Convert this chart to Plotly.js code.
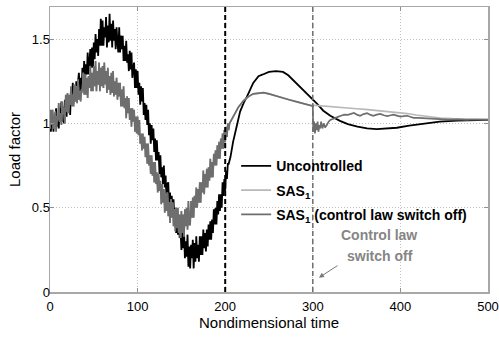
<!DOCTYPE html>
<html>
<head>
<meta charset="utf-8">
<script src="https://cdn.plot.ly/plotly-3.0.1.min.js"></script>
<style>html,body{margin:0;padding:0;background:#fff;}#chart{width:499px;height:337px;}</style>
</head>
<body>
<div id="chart"></div>
<script>
// ---- Data ----
const tUnc = [0,1,2,3,4,5,6,7,8,9,10,11,12,13,14,15,16,17,18,19,20,21,22,23,24,25,26,27,28,29,30,31,32,33,34,35,36,37,38,39,40,41,42,43,44,45,46,47,48,49,
  50,51,52,53,54,55,56,57,58,59,60,61,62,63,64,65,66,67,68,69,70,71,72,73,74,75,76,77,78,79,80,81,82,83,84,85,86,87,88,89,90,91,92,93,94,95,96,97,98,99,
  100,101,102,103,104,105,106,107,108,109,110,111,112,113,114,115,116,117,118,119,120,121,122,123,124,125,126,127,128,129,130,131,132,133,134,135,136,137,138,139,140,141,142,143,144,145,146,147,148,149,
  150,151,152,153,154,155,156,157,158,159,160,161,162,163,164,165,166,167,168,169,170,171,172,173,174,175,176,177,178,179,180,181,182,183,184,185,186,187,188,189,190,191,192,193,194,195,196,197,198,199,
  200,201,202,203,204,
  206,209,213,217,221,225,232,238,243,250,258,266,272,277,282,290,299,305,312,320,331,340,351,362,373,385,396,410,427,445,465,480,500];
const loadUnc = [1.03,0.95,1.07,1.02,0.95,1.06,1.00,1.09,0.98,1.04,
  0.97,1.09,1.02,1.13,1.01,1.10,1.00,1.14,1.10,1.04,
  1.17,1.07,1.14,1.05,1.19,1.12,1.24,1.12,1.22,1.13,
  1.25,1.14,1.25,1.30,1.19,1.27,1.18,1.33,1.25,1.37,
  1.23,1.35,1.29,1.42,1.29,1.38,1.44,1.33,1.45,1.33,
  1.48,1.38,1.53,1.42,1.50,1.40,1.56,1.46,1.62,1.46,
  1.61,1.46,1.57,1.51,1.63,1.45,1.58,1.48,1.65,1.49,
  1.59,1.45,1.61,1.49,1.56,1.44,1.57,1.48,1.42,1.57,
  1.42,1.52,1.44,1.52,1.37,1.46,1.37,1.49,1.36,1.41,
  1.31,1.43,1.32,1.42,1.27,1.33,1.36,1.21,1.32,1.21,
  1.31,1.17,1.24,1.11,1.22,1.13,1.21,1.05,1.12,1.02,
  1.11,0.99,1.08,0.93,1.00,0.88,0.99,0.90,0.97,0.83,
  0.91,0.78,0.90,0.78,0.83,0.70,0.81,0.68,0.74,0.64,
  0.75,0.62,0.69,0.55,0.64,0.65,0.51,0.59,0.47,0.57,
  0.44,0.55,0.43,0.50,0.35,0.45,0.34,0.45,0.32,0.37,
  0.25,0.37,0.26,0.36,0.20,0.30,0.21,0.34,0.15,0.27,
  0.14,0.28,0.20,0.31,0.14,0.29,0.18,0.33,0.20,0.28,
  0.18,0.33,0.22,0.33,0.22,0.37,0.26,0.35,0.24,0.37,
  0.27,0.40,0.31,0.42,0.31,0.43,0.35,0.49,0.40,0.50,
  0.40,0.54,0.46,0.58,0.48,0.58,0.50,0.65,0.57,0.67,
  0.60,0.72,0.67,0.76,0.76,
  0.80,0.89,0.98,1.07,1.12,1.16,1.24,1.28,1.29,1.305,1.31,1.305,1.285,1.26,1.235,1.19,1.15,1.115,1.075,1.045,1.015,0.995,0.98,0.97,0.966,0.968,0.974,0.987,1.0,1.01,1.016,1.019,1.021];

const tSas = [0,1,2,3,4,5,6,7,8,9,10,11,12,13,14,15,16,17,18,19,20,21,22,23,24,25,26,27,28,29,30,31,32,33,34,35,36,37,38,39,40,41,42,43,44,45,46,47,48,49,
  50,51,52,53,54,55,56,57,58,59,60,61,62,63,64,65,66,67,68,69,70,71,72,73,74,75,76,77,78,79,80,81,82,83,84,85,86,87,88,89,90,91,92,93,94,95,96,97,98,99,
  100,101,102,103,104,105,106,107,108,109,110,111,112,113,114,115,116,117,118,119,120,121,122,123,124,125,126,127,128,129,130,131,132,133,134,135,136,137,138,139,140,141,142,143,144,145,146,147,148,149,
  150,151,152,153,154,155,156,157,158,159,160,161,162,163,164,165,166,167,168,169,170,171,172,173,174,175,176,177,178,179,180,181,182,183,184,185,186,187,188,189,190,191,192,193,194,195,196,197,198,199,
  200,201,202,203,204,205,206,
  210,215,221,227,232,238,244,250,256,262,267,273,280,286,292,299,300,
  306,312,320,331,340,350,360,369,380,390,400,408,418,427,437,446,460,475,490,500];
const loadSas = [0.97,1.08,0.99,1.08,0.97,1.04,1.07,0.95,1.04,1.02,
  1.12,1.01,1.06,0.99,1.13,1.06,1.09,1.00,1.17,1.07,
  1.18,1.06,1.17,1.11,1.22,1.10,1.17,1.10,1.23,1.13,
  1.22,1.12,1.26,1.14,1.19,1.13,1.20,1.19,1.30,1.17,
  1.29,1.17,1.27,1.15,1.28,1.21,1.34,1.19,1.30,1.19,
  1.34,1.22,1.37,1.19,1.31,1.23,1.36,1.19,1.33,1.22,
  1.34,1.21,1.36,1.23,1.31,1.18,1.33,1.20,1.28,1.17,
  1.30,1.18,1.31,1.16,1.25,1.17,1.27,1.14,1.24,1.16,
  1.24,1.10,1.20,1.10,1.22,1.09,1.15,1.03,1.16,1.06,
  1.15,1.02,1.09,0.98,1.09,1.01,1.08,0.95,1.04,0.94,
  1.04,0.93,1.02,0.88,0.94,0.84,0.94,0.85,0.92,0.80,
  0.88,0.76,0.88,0.75,0.81,0.70,0.81,0.69,0.77,0.65,
  0.77,0.64,0.71,0.59,0.70,0.60,0.66,0.52,0.64,0.53,
  0.61,0.47,0.58,0.48,0.59,0.45,0.53,0.41,0.55,0.44,
  0.53,0.39,0.49,0.36,0.50,0.38,0.50,0.35,0.46,0.32,
  0.48,0.35,0.46,0.33,0.49,0.39,0.50,0.37,0.54,0.40,
  0.40,0.54,0.44,0.56,0.44,0.57,0.50,0.62,0.50,0.61,
  0.53,0.65,0.53,0.65,0.59,0.72,0.58,0.70,0.62,0.73,
  0.62,0.74,0.66,0.79,0.68,0.77,0.68,0.82,0.75,0.84,
  0.75,0.87,0.79,0.89,0.79,0.91,0.85,0.94,0.85,0.96,
  0.89,0.98,0.92,1.00,0.96,1.00,1.01,
  1.05,1.095,1.135,1.16,1.175,1.18,1.182,1.175,1.167,1.158,1.148,1.14,1.13,1.122,1.112,1.104,1.108,
  1.106,1.104,1.100,1.097,1.092,1.087,1.083,1.079,1.073,1.067,1.062,1.058,1.050,1.043,1.037,1.032,1.028,1.026,1.024,1.023];

// SAS1 with the control law switched off after t = 300
const switchOffTime = 300;
const tOff = [300.5,301.5,302.5,303.5,304.5,305.5,306.5,307.5,308.5,309.5,311,312.5,314,316,318,320,324,328,332,336,340,344,347,351,354,358,362,366,369,373,377,381,385,389,392,396,400,404,408,412,415,420,427,435,446,455,465,475,485,500];
const loadOff = [0.95,1.01,0.94,1.00,0.96,1.01,0.95,0.99,0.97,1.01,0.97,1.00,0.975,0.99,1.01,1.02,1.03,1.037,1.045,1.052,1.05,1.058,1.062,1.05,1.045,1.055,1.06,1.05,1.045,1.052,1.056,1.048,1.043,1.048,1.052,1.046,1.04,1.043,1.045,1.038,1.033,1.032,1.03,1.028,1.025,1.022,1.024,1.021,1.023,1.022];

const eventTimes = [200, 300];
const eventColors = ['#000000', '#6e6e6e'];

const xTicks = [0,100,200,300,400,500];
const yTicks = [0,0.5,1,1.5];

// switch-off series: identical to SAS1 up to the switch-off instant
const tSwitch = [], loadSwitch = [];
tSas.forEach((t, i) => { if (t <= switchOffTime) { tSwitch.push(t); loadSwitch.push(loadSas[i]); } });
tOff.forEach((t, i) => { tSwitch.push(t); loadSwitch.push(loadOff[i]); });

const FONT = 'Liberation Sans, Arial, sans-serif';

const traces = [
  {x: tUnc, y: loadUnc, type: 'scatter', mode: 'lines', name: 'Uncontrolled', legendgroup: 'a',
   line: {color: '#000000', width: 1.8}},
  {x: tSas, y: loadSas, type: 'scatter', mode: 'lines', name: 'SAS<sub>1</sub>', legendgroup: 'b',
   line: {color: '#b8b8b8', width: 1.6}},
  {x: tSwitch, y: loadSwitch, type: 'scatter', mode: 'lines', name: 'SAS<sub>1</sub> (control law switch off)', legendgroup: 'c',
   line: {color: '#6e6e6e', width: 1.7}}
];

const shapes = eventTimes.map((t, i) => ({
  type: 'line', xref: 'x', yref: 'paper', x0: t, x1: t, y0: 0, y1: 1,
  line: {color: eventColors[i], width: i === 0 ? 2 : 1.5, dash: '5px,3px'}
}));

const axisCommon = {
  showline: true, mirror: 'ticks', linecolor: '#a8a8a8', linewidth: 1.5,
  ticks: 'inside', ticklen: 4, tickcolor: '#909090', tickwidth: 1,
  showgrid: true, gridcolor: '#c0c0c0', gridwidth: 1, griddash: '1px,2px',
  zeroline: false,
  tickfont: {family: FONT, size: 13, color: '#000'}
};

const layout = {
  width: 499, height: 337,
  margin: {l: 50, r: 11, t: 7, b: 45},
  paper_bgcolor: '#ffffff', plot_bgcolor: '#ffffff',
  font: {family: FONT, color: '#000'},
  xaxis: Object.assign({}, axisCommon, {
    range: [0, 500], tickvals: xTicks, ticktext: xTicks.map(String),
    ticklabelstandoff: 2,
    title: {text: 'Nondimensional time', font: {family: FONT, size: 15, color: '#000'}, standoff: 1}
  }),
  yaxis: Object.assign({}, axisCommon, {
    range: [0, 1.69], tickvals: yTicks, ticktext: yTicks.map(String),
    ticklabelstandoff: -4,
    title: {text: 'Load factor', font: {family: FONT, size: 15, color: '#000'}, standoff: 7}
  }),
  showlegend: true,
  legend: {
    x: 0.425, y: 0.497, xanchor: 'left', yanchor: 'top',
    bgcolor: 'rgba(0,0,0,0)', borderwidth: 0,
    itemwidth: 30, tracegroupgap: 3,
    font: {family: FONT, size: 14, color: '#000', weight: 'bold'}
  },
  shapes: shapes,
  annotations: [
    {x: 375, y: 0.34, xref: 'x', yref: 'y', text: 'Control law', showarrow: false,
     xanchor: 'center', yanchor: 'middle',
     font: {family: FONT, size: 14, color: '#858585', weight: 'bold'}},
    {x: 377, y: 0.216, xref: 'x', yref: 'y', text: 'switch off', showarrow: false,
     xanchor: 'center', yanchor: 'middle',
     font: {family: FONT, size: 14, color: '#858585', weight: 'bold'}},
    {x: 307, y: 0.085, xref: 'x', yref: 'y', text: '', showarrow: true, ax: 20, ay: -13,
     arrowcolor: '#777777', arrowwidth: 1, arrowhead: 2, arrowsize: 1, standoff: 0}
  ]
};

Plotly.newPlot('chart', traces, layout, {staticPlot: true, displayModeBar: false});
</script>
</body>
</html>
